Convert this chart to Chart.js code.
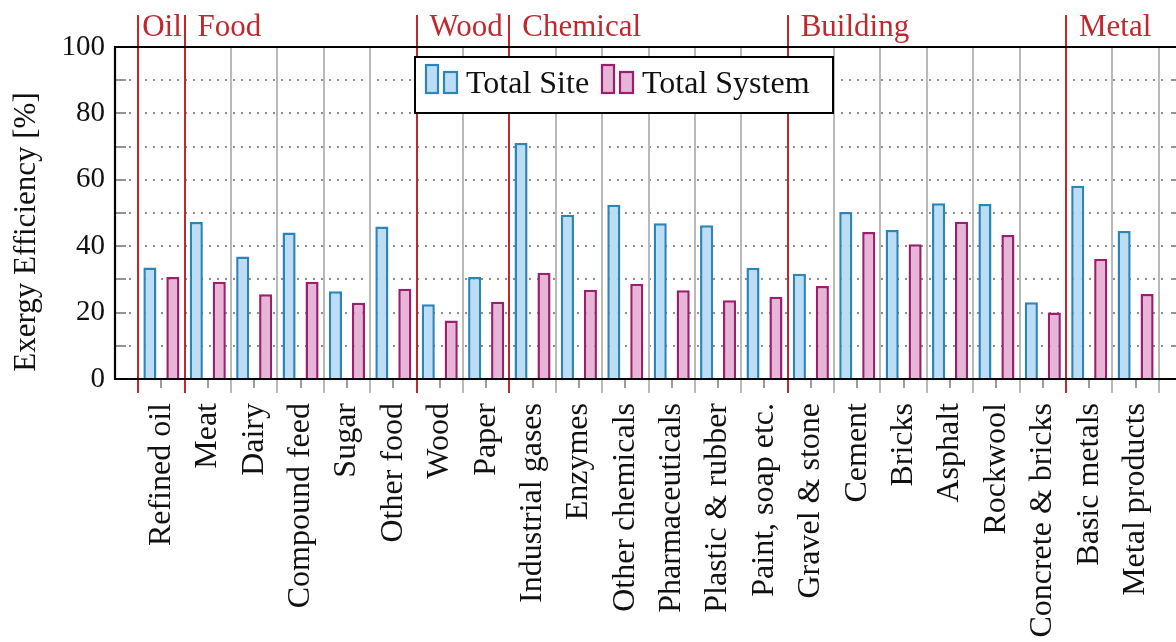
<!DOCTYPE html>
<html>
<head>
<meta charset="utf-8">
<script src="https://cdn.jsdelivr.net/npm/chart.js@4/dist/chart.umd.min.js"></script>
<style>
  html, body { margin: 0; padding: 0; background: #fff; overflow: hidden; }
  #wrap { width: 1200px; height: 642px; }
</style>
</head>
<body>
<div id="wrap"><canvas id="c" width="1200" height="642"></canvas></div>
<script>
// Industrial sectors, in plotting order
const categories = [
  'Refined oil', 'Meat', 'Dairy', 'Compound feed', 'Sugar', 'Other food',
  'Wood', 'Paper',
  'Industrial gases', 'Enzymes', 'Other chemicals', 'Pharmaceuticals', 'Plastic & rubber', 'Paint, soap etc.',
  'Gravel & stone', 'Cement', 'Bricks', 'Asphalt', 'Rockwool', 'Concrete & bricks',
  'Basic metals', 'Metal products'
];

// Exergy efficiency [%]
const totalSite = [33.6, 47.3, 36.9, 44.1, 26.4, 45.9, 22.5, 30.7, 71.1, 49.5, 52.5,
                   46.9, 46.3, 33.5, 31.7, 50.3, 44.9, 52.9, 52.7, 23.1, 58.2, 44.6];
const totalSystem = [30.7, 29.3, 25.5, 29.3, 23.0, 27.2, 17.6, 23.3, 32.0, 26.9, 28.7,
                     26.7, 23.7, 24.8, 28.0, 44.3, 40.6, 47.4, 43.4, 20.0, 36.2, 25.6];

// Sector groups and how many categories each spans
const groupNames = ['Oil', 'Food', 'Wood', 'Chemical', 'Building', 'Metal'];
const groupSizes = [1, 5, 2, 6, 6, 2];

// Value axis
const yTicks = [0, 20, 40, 60, 80, 100];
const yMinorStep = 10;
const yTitle = 'Exergy Efficiency [%]';

const FONT = '"Liberation Serif", "Times New Roman", serif';
const RED = '#c0282d';
const SEP_GRAY = '#b9b9b9';
const BLUE_FILL = '#bddcf5', BLUE_EDGE = '#2b86b8';
const PINK_FILL = '#e7b5d8', PINK_EDGE = '#9a1f6c';

// category index where each group begins
const groupStarts = [];
groupSizes.reduce((acc, n) => { groupStarts.push(acc); return acc + n; }, 0);

const decor = {
  id: 'decor',
  beforeDatasetsDraw(chart) {
    const { ctx, chartArea: a, scales: { x, y } } = chart;
    ctx.save();
    // dotted horizontal grid, every minor step
    ctx.strokeStyle = '#8f8f8f';
    ctx.lineWidth = 2;
    ctx.setLineDash([2, 6]);
    for (let v = yMinorStep; v < yTicks[yTicks.length - 1]; v += yMinorStep) {
      const py = Math.round(y.getPixelForValue(v));
      ctx.beginPath();
      ctx.moveTo(a.left + 14, py);
      ctx.lineTo(a.right - 14, py);
      ctx.stroke();
    }
    ctx.setLineDash([]);
    // inward tick marks on left and right edges
    ctx.strokeStyle = '#707070';
    ctx.lineWidth = 1.5;
    for (let v = yMinorStep; v < yTicks[yTicks.length - 1]; v += yMinorStep) {
      const py = Math.round(y.getPixelForValue(v));
      ctx.beginPath();
      ctx.moveTo(a.left, py); ctx.lineTo(a.left + 11, py);
      ctx.moveTo(a.right, py); ctx.lineTo(a.right - 11, py);
      ctx.stroke();
    }
    // category separators (gray) and group separators (red)
    for (let b = 0; b <= categories.length; b++) {
      const px = Math.round(x.getPixelForValue(b - 0.5));
      const isGroup = groupStarts.includes(b);
      ctx.strokeStyle = isGroup ? RED : SEP_GRAY;
      ctx.lineWidth = 2;
      ctx.beginPath();
      ctx.moveTo(px, isGroup ? 15 : a.top);
      ctx.lineTo(px, a.bottom + 14);
      ctx.stroke();
    }
    // short ticks below the axis at category centres
    ctx.strokeStyle = '#7a7a7a';
    ctx.lineWidth = 1.5;
    categories.forEach((_, i) => {
      const px = Math.round(x.getPixelForValue(i));
      ctx.beginPath();
      ctx.moveTo(px, a.bottom);
      ctx.lineTo(px, a.bottom + 9);
      ctx.stroke();
    });
    ctx.restore();
  },
  afterDatasetsDraw(chart) {
    const { ctx, chartArea: a, scales: { x } } = chart;
    ctx.save();
    // axis frame
    ctx.strokeStyle = '#000';
    ctx.lineWidth = 2.2;
    ctx.beginPath();
    ctx.moveTo(a.right, a.top);
    ctx.lineTo(a.left, a.top);
    ctx.lineTo(a.left, a.bottom);
    ctx.lineTo(a.right, a.bottom);
    ctx.lineTo(a.right, a.top);
    ctx.stroke();

    // value axis title, rotated
    ctx.save();
    ctx.translate(27, (a.top + a.bottom) / 2 + 19);
    ctx.rotate(-Math.PI / 2);
    ctx.fillStyle = '#111';
    ctx.font = '31px ' + FONT;
    ctx.textAlign = 'center';
    ctx.textBaseline = 'middle';
    ctx.fillText(yTitle, 0, 0);
    ctx.restore();

    // group names above the plot
    ctx.fillStyle = RED;
    ctx.font = '31px ' + FONT;
    ctx.textBaseline = 'alphabetic';
    ctx.textAlign = 'left';
    groupNames.forEach((name, g) => {
      const px = x.getPixelForValue(groupStarts[g] - 0.5);
      const pad = groupSizes[g] === 1 ? 4 : 13;
      ctx.fillText(name, px + pad, 36);
    });

    // legend box
    const lx = 415, ly = 57, lw = 418, lh = 56;
    ctx.fillStyle = '#fff';
    ctx.fillRect(lx, ly, lw, lh);
    ctx.strokeStyle = '#000';
    ctx.lineWidth = 2;
    ctx.strokeRect(lx, ly, lw, lh);
    const entryX = [lx + 11, lx + 187];
    chart.data.datasets.forEach((ds, k) => {
      const ex = entryX[k];
      ctx.fillStyle = ds.backgroundColor;
      ctx.strokeStyle = ds.borderColor;
      ctx.lineWidth = 2.2;
      ctx.fillRect(ex, ly + 8, 12, 28);
      ctx.strokeRect(ex, ly + 8, 12, 28);
      ctx.fillRect(ex + 18, ly + 15, 13, 21);
      ctx.strokeRect(ex + 18, ly + 15, 13, 21);
      ctx.fillStyle = '#111';
      ctx.font = '32px ' + FONT;
      ctx.textAlign = 'left';
      ctx.textBaseline = 'alphabetic';
      ctx.fillText(ds.label, ex + 40, ly + 36);
    });
    ctx.restore();
  }
};

const toPoints = arr => arr.map((v, i) => ({ x: i, y: v }));

new Chart(document.getElementById('c'), {
  type: 'bar',
  data: {
    datasets: [
      { label: 'Total Site', data: toPoints(totalSite),
        backgroundColor: BLUE_FILL, borderColor: BLUE_EDGE, borderWidth: 2.5,
        barPercentage: 0.57, categoryPercentage: 0.99 },
      { label: 'Total System', data: toPoints(totalSystem),
        backgroundColor: PINK_FILL, borderColor: PINK_EDGE, borderWidth: 2.5,
        barPercentage: 0.57, categoryPercentage: 0.99 }
    ]
  },
  options: {
    responsive: false,
    animation: false,
    layout: { padding: { top: 47, right: 18, left: 0, bottom: 0 } },
    plugins: { legend: { display: false }, tooltip: { enabled: false } },
    scales: {
      x: {
        type: 'linear',
        offset: false,
        min: -1,
        max: categories.length,
        grid: { display: false, drawTicks: false, offset: false },
        border: { display: false },
        afterBuildTicks: s => { s.ticks = categories.map((_, i) => ({ value: i })); },
        afterFit: s => { s.height = 263; },
        ticks: {
          autoSkip: false,
          minRotation: 90,
          maxRotation: 90,
          padding: 24,
          color: '#111',
          font: { family: FONT, size: 32 },
          callback: v => categories[v]
        }
      },
      y: {
        min: yTicks[0],
        max: yTicks[yTicks.length - 1],
        grid: { display: false, drawTicks: false },
        border: { display: false },
        afterBuildTicks: s => { s.ticks = yTicks.map(v => ({ value: v })); },
        afterFit: s => { s.width = 115; },
        ticks: {
          padding: 10,
          color: '#111',
          font: { family: FONT, size: 29 }
        }
      }
    }
  },
  plugins: [decor]
});
</script>
</body>
</html>
